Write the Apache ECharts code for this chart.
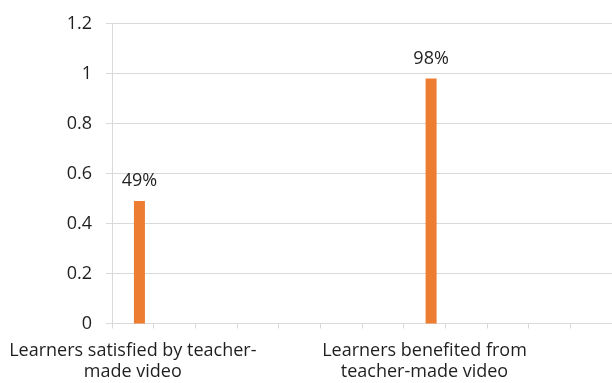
<!DOCTYPE html>
<html>
<head>
<meta charset="utf-8">
<script src="https://cdn.jsdelivr.net/npm/echarts@6/dist/echarts.min.js"></script>
<style>
  html, body { margin: 0; padding: 0; background: #ffffff; }
  #chart { width: 612px; height: 383px; }
</style>
</head>
<body>
<div id="chart"></div>
<script>
// Category slots along the x axis; only two of them carry a caption.
const categories = [
  'Learners satisfied by teacher-\nmade video', '', '', '', '', '', '',
  'Learners benefited from\nteacher-made video', '', '', '', ''
];
// First (empty) series keeps the clustered slot; the second holds the shares.
const baseSeries = [null, null, null, null, null, null, null, null, null, null, null, null];
const shareSeries = [0.49, null, null, null, null, null, null, 0.98, null, null, null, null];
// Value axis ticks
const yMin = 0;
const yMax = 1.2;
const yStep = 0.2;

const textColor = '#1f1f1f';
const lineColor = '#d9d9d9';
const fontFamily = '"Open Sans", "Noto Sans", sans-serif';
const fontSize = 18;

const chart = echarts.init(document.getElementById('chart'), null, { renderer: 'canvas' });
chart.setOption({
  animation: false,
  backgroundColor: '#ffffff',
  grid: { left: 112, right: -10, top: 23.5, bottom: 59.5, containLabel: false },
  xAxis: {
    type: 'category',
    data: categories,
    boundaryGap: true,
    axisLine: { show: true, lineStyle: { color: lineColor, width: 1 } },
    axisTick: { show: true, interval: 0, length: 5, lineStyle: { color: lineColor } },
    axisLabel: {
      interval: 6,
      margin: 17,
      color: textColor,
      fontFamily: fontFamily,
      fontSize: fontSize,
      lineHeight: 21
    },
    splitLine: { show: false }
  },
  yAxis: {
    type: 'value',
    min: yMin,
    max: yMax,
    interval: yStep,
    axisLine: { show: true, lineStyle: { color: lineColor, width: 1 } },
    axisTick: { show: true, length: 6, lineStyle: { color: lineColor } },
    axisLabel: {
      margin: 20,
      color: textColor,
      fontFamily: fontFamily,
      fontSize: fontSize,
      formatter: function (v) { return String(Math.round(v * 10) / 10); }
    },
    splitLine: { show: true, lineStyle: { color: lineColor, width: 1 } }
  },
  series: [
    {
      type: 'bar',
      data: baseSeries,
      barWidth: 11,
      barGap: '20%',
      itemStyle: { color: '#4472C4' }
    },
    {
      type: 'bar',
      data: shareSeries,
      barWidth: 11,
      barGap: '20%',
      itemStyle: { color: '#ED7D31' },
      label: {
        show: true,
        position: 'top',
        distance: 11,
        color: textColor,
        fontFamily: fontFamily,
        fontSize: fontSize,
        formatter: function (p) { return Math.round(p.value * 100) + '%'; }
      }
    }
  ]
});
</script>
</body>
</html>
